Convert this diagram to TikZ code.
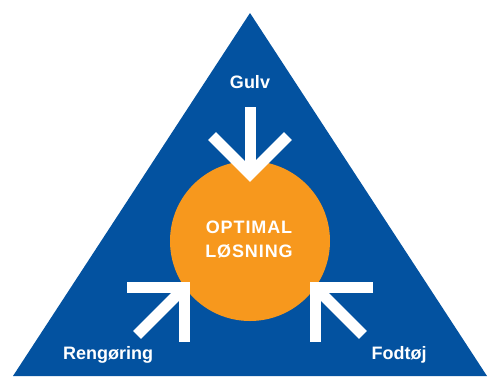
\documentclass[tikz,border=0pt]{standalone}
\usepackage{fontspec}
\setmainfont{Liberation Sans}
\definecolor{triblue}{RGB}{3,82,160}
\definecolor{solorange}{RGB}{247,152,29}
\begin{document}
\begin{tikzpicture}[x=1pt,y=-1pt,
  lbl/.style={text=white,font=\fontsize{18}{24}\selectfont\bfseries,inner sep=0pt},
  openarrow/.style={draw=white,line width=11pt,line join=miter,line cap=butt}]
\useasboundingbox (0,0) rectangle (488,376);
% triangle
\coordinate (apex) at (250,13);
\coordinate (bl) at (13,376);
\coordinate (br) at (487,376);
\fill[triblue] (bl) -- (apex) -- (br) -- cycle;
% circle
\node[circle,fill=solorange,minimum size=160pt,inner sep=0pt] (sol) at (250,241) {};
\node[lbl,align=center] (soltext) at (249,240)
  {\addfontfeature{LetterSpace=5}OPTIMAL\\\addfontfeature{LetterSpace=5}LØSNING};
% labels
\node[lbl] (gulv) at (250,82) {Gulv};
\node[lbl] (reng) at (108,355) {Rengøring};
\node[lbl] (fod) at (399,355) {Fodtøj};
% Gulv arrow
\coordinate (g0) at (250,107);
\coordinate (gv) at (250,174);
\coordinate (ga) at (212,136);
\coordinate (gb) at (288,136);
\draw[openarrow] (g0) -- (gv);
\draw[openarrow] (ga) -- (gv) -- (gb);
% Rengøring arrow
\coordinate (r0) at (137.1,334.9);
\coordinate (rv) at (184.5,287.5);
\coordinate (ra) at (127,287.5);
\coordinate (rb) at (184.5,342);
\draw[openarrow] (r0) -- (rv);
\draw[openarrow] (ra) -- (rv) -- (rb);
% Fodtøj arrow
\coordinate (f0) at (362.9,334.9);
\coordinate (fv) at (315.5,287.5);
\coordinate (fa) at (373,287.5);
\coordinate (fb) at (315.5,342);
\draw[openarrow] (f0) -- (fv);
\draw[openarrow] (fa) -- (fv) -- (fb);
\end{tikzpicture}
\end{document}
